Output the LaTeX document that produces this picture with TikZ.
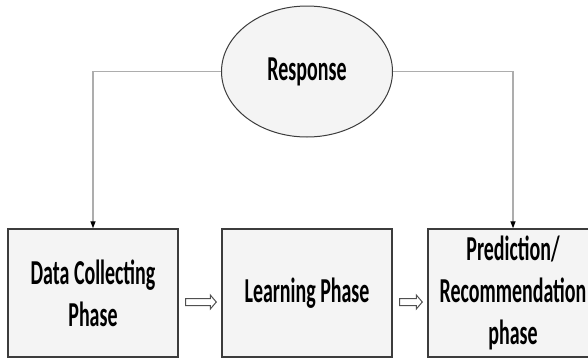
\documentclass[tikz,border=0pt]{standalone}
\usepackage{fontspec}
\setmainfont{Carlito}[FakeStretch=0.57]
\usetikzlibrary{arrows.meta,calc,shapes.geometric}
\definecolor{boxfill}{HTML}{F4F4F4}
\definecolor{boxline}{HTML}{3C3C3C}
\definecolor{linkline}{HTML}{ADADAD}
\definecolor{flowline}{HTML}{505050}
\begin{document}
\begin{tikzpicture}[x=1pt,y=-1pt,
  phasebox/.style={draw=boxline, line width=1.4pt, fill=boxfill,
    minimum width=170pt, minimum height=128pt, inner sep=0pt,
    align=center, font=\fontsize{35}{42}\selectfont\bfseries},
  respnode/.style={ellipse, draw=boxline, line width=1pt, fill=boxfill,
    minimum width=171pt, minimum height=131pt, inner sep=0pt,
    font=\fontsize{35}{42}\selectfont\bfseries},
  link/.style={draw=linkline, line width=1.3pt,
    -{Triangle[black,width=5pt,length=7pt]}},
  flowarrow/.style={draw=flowline, line width=1pt, fill=white, line join=miter}]
\useasboundingbox (0,0) rectangle (588,359);

% phase boxes
\node[phasebox] (collect) at (93,293) {Data Collecting\\Phase};
\node[phasebox] (learn) at (307,293) {Learning Phase};
\node[phasebox] (predict) at (513,293) {Prediction/\\Recommendation\\phase};

% feedback ellipse
\node[respnode] (resp) at (307,71.5) {Response};

% feedback links down to the first and last phase
\draw[link] (resp.west) -| (collect.north);
\draw[link] (resp.east) -| (predict.north);

% outlined block arrows between the phases
\foreach \a/\b in {collect/learn, learn/predict}{
  \coordinate (s) at ($(\a.east)+(7,9)$);
  \coordinate (t) at ($(\b.west)+(-5,9)$);
  \draw[flowarrow] ($(s)+(0,-3.5)$) -- ($(t)+(-6,-3.5)$) -- ($(t)+(-6,-7)$)
    -- (t) -- ($(t)+(-6,7)$) -- ($(t)+(-6,3.5)$) -- ($(s)+(0,3.5)$) -- cycle;
}
\end{tikzpicture}
\end{document}
